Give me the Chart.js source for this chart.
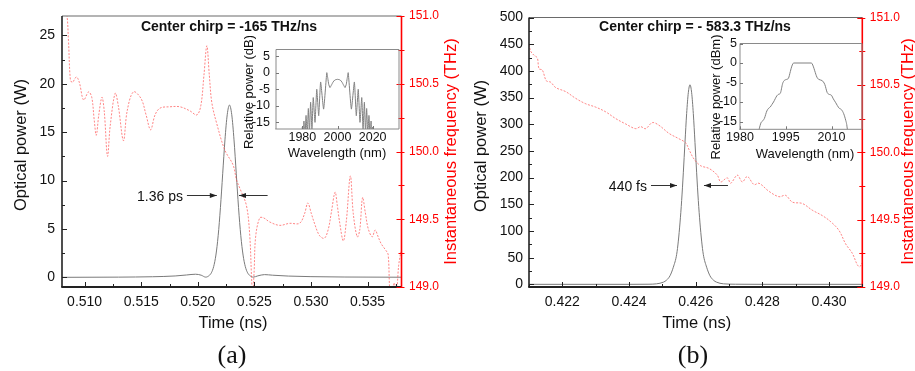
<!DOCTYPE html>
<html><head><meta charset="utf-8">
<script src="https://cdn.jsdelivr.net/npm/chart.js@4.4.1/dist/chart.umd.min.js"></script>
<style>
html,body{margin:0;padding:0;background:#fff;width:915px;height:371px;overflow:hidden;position:relative}
canvas{position:absolute;display:block}
</style></head><body>
<canvas id="ca" width="470" height="371" style="left:0px;top:0px"></canvas>
<canvas id="cb" width="460" height="371" style="left:455px;top:0px"></canvas>
<canvas id="ia" width="166" height="130" style="left:238px;top:36px"></canvas>
<canvas id="ib" width="162" height="132" style="left:703px;top:33px"></canvas>
<script>
// ---------- Panel (a) ----------
const A_TIME_TICKS = [0.510, 0.515, 0.520, 0.525, 0.530, 0.535];
const A_POWER_TICKS = [0, 5, 10, 15, 20, 25];
const A_FREQ_TICKS = [149.0, 149.5, 150.0, 150.5, 151.0];
const A_POWER_T = [0.508, 0.513, 0.516, 0.518, 0.519, 0.5198, 0.5203, 0.5207, 0.5210, 0.5212, 0.5214, 0.5216, 0.5218, 0.5220, 0.5222, 0.5224, 0.5226, 0.5228, 0.5230, 0.5232, 0.5234, 0.5236, 0.5238, 0.5240, 0.5242, 0.5244, 0.5246, 0.5249, 0.5253, 0.5259, 0.5266, 0.528, 0.530, 0.533, 0.538];
const A_POWER_W = [0, 0.02, 0.06, 0.14, 0.24, 0.32, 0.22, 0.02, 0.18, 0.47, 1.1, 2.3, 4.3, 7.2, 10.7, 14.2, 16.8, 17.8, 16.8, 14.2, 10.7, 7.2, 4.3, 2.3, 1.1, 0.47, 0.18, 0.02, 0.15, 0.28, 0.22, 0.13, 0.07, 0.03, 0.01];
const A_FREQ_T = [0.50804, 0.50839, 0.50857, 0.50874, 0.50892, 0.50927, 0.50953, 0.50991, 0.51035, 0.51063, 0.51085, 0.51103, 0.51125, 0.51153, 0.51173, 0.51202, 0.51226, 0.5127, 0.51297, 0.51343, 0.51376, 0.51431, 0.51499, 0.51543, 0.51583, 0.51622, 0.51666, 0.51754, 0.51842, 0.5193, 0.51992, 0.52027, 0.52054, 0.5208, 0.52102, 0.52124, 0.52166, 0.52239, 0.52312, 0.52342, 0.52371, 0.5243, 0.52459, 0.52476, 0.52485, 0.52498, 0.52511, 0.52547, 0.52582, 0.52635, 0.52723, 0.52811, 0.52899, 0.52943, 0.52972, 0.53004, 0.53031, 0.53075, 0.53119, 0.53154, 0.5318, 0.53213, 0.53233, 0.53251, 0.53286, 0.53313, 0.53348, 0.53374, 0.53409, 0.53431, 0.53456, 0.5348, 0.53506, 0.53541, 0.53567, 0.53594, 0.5362, 0.53662, 0.53682, 0.53695, 0.53708, 0.53735, 0.53755, 0.53775, 0.53794];
const A_FREQ_THZ = [151.08, 151.03, 150.82, 150.53, 150.51, 150.55, 150.51, 150.38, 150.44, 150.40, 150.23, 150.12, 150.27, 150.40, 150.30, 149.965, 150.19, 150.43, 150.34, 150.08, 150.30, 150.44, 150.39, 150.27, 150.16, 150.27, 150.32, 150.33, 150.33, 150.30, 150.27, 150.34, 150.56, 150.78, 150.56, 150.36, 150.21, 150.01, 149.90, 149.79, 149.73, 149.60, 149.38, 149.05, 148.94, 149.12, 149.37, 149.51, 149.51, 149.48, 149.455, 149.47, 149.47, 149.54, 149.62, 149.54, 149.47, 149.38, 149.36, 149.43, 149.55, 149.70, 149.60, 149.49, 149.34, 149.49, 149.82, 149.54, 149.37, 149.42, 149.66, 149.55, 149.43, 149.37, 149.42, 149.37, 149.32, 149.27, 149.24, 148.99, 148.90, 149.03, 148.96, 149.16, 149.26];

// ---------- Panel (b) ----------
const B_TIME_TICKS = [0.422, 0.424, 0.426, 0.428, 0.430];
const B_POWER_TICKS = [0, 50, 100, 150, 200, 250, 300, 350, 400, 450, 500];
const B_FREQ_TICKS = [149.0, 149.5, 150.0, 150.5, 151.0];
const B_POWER_T = [0.421, 0.4240, 0.4246, 0.42483, 0.42503, 0.42513, 0.42523, 0.42533, 0.42543, 0.42548, 0.42553, 0.42558, 0.42563, 0.42568, 0.42573, 0.42578, 0.42583, 0.42588, 0.42593, 0.42598, 0.42603, 0.42608, 0.42613, 0.42618, 0.42623, 0.42633, 0.42643, 0.42653, 0.42663, 0.42683, 0.4272, 0.4280, 0.431];
const B_POWER_W = [0, 0, 0.2, 1, 4, 8, 16, 32, 56, 81, 115, 157, 209, 266, 320, 359, 374, 359, 320, 266, 209, 157, 115, 81, 56, 32, 16, 8, 4, 1, 0.2, 0, 0];
const B_FREQ_T = [0.42100, 0.42105, 0.42115, 0.42125, 0.4213, 0.4214, 0.42152, 0.42165, 0.4218, 0.4221, 0.4224, 0.4227, 0.4230, 0.4233, 0.4236, 0.4239, 0.4242, 0.42435, 0.4245, 0.4247, 0.4249, 0.4252, 0.4255, 0.4257, 0.4258, 0.42595, 0.42615, 0.4264, 0.42665, 0.42675, 0.42695, 0.42705, 0.42725, 0.4274, 0.42755, 0.42775, 0.4279, 0.4282, 0.4285, 0.4287, 0.4289, 0.4292, 0.4295, 0.4298, 0.43005, 0.4303, 0.4305, 0.4307, 0.43085, 0.43092, 0.431];
const B_FREQ_THZ = [150.80, 150.75, 150.72, 150.70, 150.62, 150.61, 150.53, 150.52, 150.48, 150.45, 150.40, 150.36, 150.335, 150.30, 150.25, 150.21, 150.175, 150.19, 150.175, 150.22, 150.20, 150.14, 150.10, 150.07, 150.02, 149.95, 149.90, 149.88, 149.83, 149.78, 149.81, 149.77, 149.83, 149.78, 149.82, 149.76, 149.77, 149.71, 149.67, 149.68, 149.63, 149.62, 149.57, 149.53, 149.485, 149.42, 149.32, 149.25, 149.165, 149.15, 149.18];

// ---------- Insets ----------
const IA_WL_TICKS = [1980, 2000, 2020];
const IA_DB_TICKS = [-15, -10, -5, 0, 5];
const IA_WL = [1978.8, 1979.3, 1979.65, 1980.0, 1980.45, 1980.9, 1981.5, 1982.1, 1982.75, 1983.4, 1984.05, 1984.7, 1985.45, 1986.2, 1987.2, 1988.2, 1989.3, 1990.4, 1992.1, 1993.9, 1994.5, 1995.0, 1995.7, 1996.5, 1997.5, 1998.5, 2000, 2001.5, 2002.5, 2003.5, 2004.3, 2005.0, 2005.5, 2006.1, 2007.9, 2009.6, 2010.7, 2011.8, 2012.8, 2013.8, 2014.55, 2015.3, 2015.95, 2016.6, 2017.25, 2017.9, 2018.5, 2019.1, 2019.55, 2020.0, 2020.35, 2020.7, 2021.2];
const IA_DB = [-22, -17.8, -22, -16.4, -21, -14.6, -20, -12.9, -19, -10.8, -18, -8.9, -17, -7.5, -15, -5, -13, -2.8, -11, 0, -1.8, -3.5, -4.5, -3.8, -2.8, -2.2, -2, -2.2, -2.8, -3.8, -4.5, -3.5, -1.8, 0, -11, -2.8, -13, -5, -15, -7.5, -17, -8.9, -18, -10.8, -19, -12.9, -20, -14.6, -21, -16.4, -22, -17.8, -22];
const IB_WL_TICKS = [1980, 1995, 2010];
const IB_DB_TICKS = [-15, -10, -5, 0, 5];
const IB_WL = [1986.0, 1986.3, 1986.9, 1987.5, 1988.0, 1988.8, 1989.4, 1989.9, 1990.5, 1991.0, 1992.1, 1992.7, 1993.2, 1994.0, 1994.5, 1995.3, 1995.9, 1996.5, 1997.0, 1997.6, 2000, 2003.4, 2004.0, 2004.5, 2005.2, 2005.8, 2006.9, 2007.8, 2008.6, 2009.1, 2010.0, 2010.6, 2011.4, 2012.4, 2013.3, 2014.0, 2014.7, 2015.0, 2015.2, 2015.5];
const IB_DB = [-18, -16.9, -15.3, -14.8, -14.2, -12.3, -11.6, -11.3, -10.6, -10, -8.4, -8.0, -7.8, -5.2, -4.5, -4.2, -3.9, -2.2, -0.8, 0, 0, 0, -0.8, -2.0, -3.6, -4.2, -4.5, -5.5, -7.6, -8.0, -8.3, -9.2, -10.2, -11.5, -12.0, -13.0, -14.8, -15.8, -17, -18];

const SANS = "'Liberation Sans', Arial, Helvetica, sans-serif";
const RED = '#ff0000';
const pts = (xs, ys) => xs.map((x, i) => ({x: x, y: ys[i]}));

// plugin: frame lines, inward ticks, texts, arrows
const decor = {
  id: 'decor',
  afterDraw(chart, args, o) {
    const ctx = chart.ctx, ca = chart.chartArea;
    (o.frame || []).forEach(f => {
      ctx.save(); ctx.strokeStyle = f.color; ctx.lineWidth = f.width; ctx.beginPath();
      if (f.side === 'left') { ctx.moveTo(ca.left, ca.top); ctx.lineTo(ca.left, ca.bottom); }
      if (f.side === 'right') { ctx.moveTo(ca.right, ca.top); ctx.lineTo(ca.right, ca.bottom); }
      if (f.side === 'top') { ctx.moveTo(ca.left, ca.top); ctx.lineTo(ca.right, ca.top); }
      if (f.side === 'bottom') { ctx.moveTo(ca.left - 0.75, ca.bottom); ctx.lineTo(ca.right, ca.bottom); }
      ctx.stroke(); ctx.restore();
    });
    (o.ticks || []).forEach(it => {
      const s = chart.scales[it.id];
      const vals = s.ticks.map(t => t.value);
      ctx.save(); ctx.strokeStyle = it.color; ctx.lineWidth = it.width || 1;
      const draw = (v, len) => {
        if (v < s.min - 1e-9 || v > s.max + 1e-9) return;
        const p = Math.round(s.getPixelForValue(v)) + 0.5;
        ctx.beginPath();
        if (s.isHorizontal()) {
          const y = ca.bottom; ctx.moveTo(p, y); ctx.lineTo(p, y - len);
        } else if (it.side === 'right') {
          ctx.moveTo(ca.right + (it.out || 0), p); ctx.lineTo(ca.right - len, p);
        } else {
          ctx.moveTo(ca.left, p); ctx.lineTo(ca.left + len, p);
        }
        ctx.stroke();
      };
      vals.forEach(v => draw(v, it.len));
      if (it.minorLen && vals.length > 1) {
        const step = vals[1] - vals[0];
        for (let v = vals[0] - step / 2; v <= s.max; v += step) draw(v, it.minorLen);
      }
      ctx.restore();
    });
    (o.texts || []).forEach(t => {
      ctx.save();
      ctx.font = t.font; ctx.fillStyle = t.color || '#111';
      ctx.textAlign = t.align || 'center'; ctx.textBaseline = 'middle';
      let x = t.x, y = t.y;
      if (t.dx !== undefined) { x = chart.scales.x.getPixelForValue(t.dx); y = chart.scales.y.getPixelForValue(t.dy); }
      ctx.translate(x, y); if (t.rot) ctx.rotate(t.rot * Math.PI / 180);
      ctx.fillText(t.text, 0, 0);
      ctx.restore();
    });
    (o.arrows || []).forEach(a => {
      const x1 = chart.scales.x.getPixelForValue(a.from), x2 = chart.scales.x.getPixelForValue(a.to);
      const y = Math.round(chart.scales.y.getPixelForValue(a.at)) + 0.5;
      ctx.save(); ctx.strokeStyle = '#333'; ctx.fillStyle = '#222'; ctx.lineWidth = 1;
      ctx.beginPath(); ctx.moveTo(x1, y); ctx.lineTo(x2, y); ctx.stroke();
      const d = Math.sign(x2 - x1);
      ctx.beginPath(); ctx.moveTo(x2, y); ctx.lineTo(x2 - d * 7, y - 2.5); ctx.lineTo(x2 - d * 7, y + 2.5); ctx.closePath(); ctx.fill();
      ctx.restore();
    });
  }
};

function fixedTicks(arr) { return s => { s.ticks = arr.map(v => ({value: v})); }; }

function mainChart(id, c) {
  return new Chart(document.getElementById(id), {
    type: 'line',
    data: { datasets: [
      { data: pts(c.freqT, c.freqV), yAxisID: 'y2', borderColor: 'rgba(255,80,80,0.7)', borderWidth: 1, borderDash: [2, 1.5], pointRadius: 0, tension: 0.35, fill: false },
      { data: pts(c.powT, c.powV), yAxisID: 'y', borderColor: '#7a7a7a', borderWidth: 1, pointRadius: 0, cubicInterpolationMode: 'monotone', fill: false }
    ]},
    options: {
      responsive: false, animation: false, devicePixelRatio: 1,
      layout: { padding: { top: c.top, left: 0, right: 0, bottom: 0 } },
      plugins: { legend: { display: false }, tooltip: { enabled: false }, title: { display: false },
        decor: c.decor },
      scales: {
        x: { type: 'linear', min: c.xmin, max: c.xmax, afterBuildTicks: fixedTicks(c.xTicks),
             afterFit: s => { s.height = c.xh; },
             grid: { display: false, drawTicks: false }, border: { display: false },
             ticks: { autoSkip: false, maxRotation: 0, padding: 6.5, color: '#111', font: { family: SANS, size: 14 }, callback: v => v.toFixed(3) } },
        y: { type: 'linear', position: 'left', min: c.ymin, max: c.ymax, afterBuildTicks: fixedTicks(c.yTicks),
             afterFit: s => { s.width = c.yw; },
             grid: { display: false, drawTicks: false }, border: { display: false },
             ticks: { autoSkip: false, padding: c.ypad, color: '#111', font: { family: SANS, size: 14 }, callback: v => String(v) } },
        y2: { type: 'linear', position: 'right', min: 149, max: 151, afterBuildTicks: fixedTicks(c.fTicks),
             afterFit: s => { s.width = c.y2w; },
             grid: { display: false, drawTicks: false }, border: { display: false },
             ticks: { autoSkip: false, padding: 7.5, color: RED, font: { family: SANS, size: 12 }, callback: v => v.toFixed(1) } }
      }
    },
    plugins: [decor]
  });
}

const frameMain = [
  { side: 'top', color: '#6a6a6a', width: 1.2 },
  { side: 'left', color: '#222', width: 1.6 },
  { side: 'bottom', color: '#222', width: 1.8 },
  { side: 'right', color: RED, width: 1.6 }
];
const tickMain = [
  { id: 'x', len: 5, minorLen: 3, color: '#222' },
  { id: 'y', len: 5, minorLen: 3, color: '#222' },
  { id: 'y2', side: 'right', len: 5, minorLen: 3, out: 3, color: RED }
];
const AX = "16.5px " + SANS;

mainChart('ca', {
  powT: A_POWER_T, powV: A_POWER_W, freqT: A_FREQ_T, freqV: A_FREQ_THZ,
  xmin: 0.508, xmax: 0.538, ymin: -1, ymax: 27, xTicks: A_TIME_TICKS, yTicks: A_POWER_TICKS, fTicks: A_FREQ_TICKS,
  top: 16, xh: 84, yw: 62, y2w: 68.5, ypad: 7,
  decor: {
    frame: frameMain, ticks: tickMain,
    texts: [
      { text: 'Optical power (W)', x: 21, y: 145, rot: -90, font: AX },
      { text: 'Instantaneous frequency (THz)', x: 451, y: 151.5, rot: -90, font: AX, color: RED },
      { text: 'Time (ns)', x: 233, y: 323, font: AX },
      { text: '(a)', x: 232, y: 356, font: "26px 'Liberation Serif', 'Times New Roman', serif" },
      { text: 'Center chirp = -165 THz/ns', x: 229, y: 27.5, font: "bold 14px " + SANS },
      { text: '1.36 ps', dx: 0.51869, dy: 8.3, align: 'right', font: "14px " + SANS }
    ],
    arrows: [ { from: 0.51904, to: 0.52168, at: 8.5 }, { from: 0.52617, to: 0.52364, at: 8.5 } ]
  }
});

mainChart('cb', {
  powT: B_POWER_T, powV: B_POWER_W, freqT: B_FREQ_T, freqV: B_FREQ_THZ,
  xmin: 0.421, xmax: 0.431, ymin: -5, ymax: 500, xTicks: B_TIME_TICKS, yTicks: B_POWER_TICKS, fTicks: B_FREQ_TICKS,
  top: 17.5, xh: 84, yw: 74, y2w: 52.7, ypad: 6,
  decor: {
    frame: frameMain, ticks: tickMain,
    texts: [
      { text: 'Optical power (W)', x: 26, y: 146, rot: -90, font: AX },
      { text: 'Instantaneous frequency (THz)', x: 453, y: 151.5, rot: -90, font: AX, color: RED },
      { text: 'Time (ns)', x: 241.7, y: 323.3, font: AX },
      { text: '(b)', x: 238, y: 356, font: "26px 'Liberation Serif', 'Times New Roman', serif" },
      { text: 'Center chirp = - 583.3 THz/ns', x: 240, y: 27.5, font: "bold 14px " + SANS },
      { text: '440 fs', dx: 0.42454, dy: 183, align: 'right', font: "14px " + SANS }
    ],
    arrows: [ { from: 0.42466, to: 0.42544, at: 186 }, { from: 0.42697, to: 0.42625, at: 186 } ]
  }
});

function insetChart(id, c) {
  return new Chart(document.getElementById(id), {
    type: 'line',
    data: { datasets: [
      { data: pts(c.wl, c.db), borderColor: '#808080', borderWidth: 1, pointRadius: 0, tension: c.tension, cubicInterpolationMode: c.mono ? 'monotone' : 'default', fill: false }
    ]},
    options: {
      responsive: false, animation: false, devicePixelRatio: 1,
      layout: { padding: { top: c.top, left: 0, right: c.right, bottom: 0 } },
      plugins: { legend: { display: false }, tooltip: { enabled: false },
        decor: {
          frame: [ { side: 'top', color: '#8a8a8a', width: 1 }, { side: 'bottom', color: '#8a8a8a', width: 1 },
                   { side: 'left', color: '#8a8a8a', width: 1 }, { side: 'right', color: '#8a8a8a', width: 1 } ],
          ticks: [ { id: 'x', len: 3, color: '#777' }, { id: 'y', len: 3, color: '#777' } ],
          texts: c.texts
        } },
      scales: {
        x: { type: 'linear', min: c.xmin, max: c.xmax, afterBuildTicks: fixedTicks(c.xTicks),
             afterFit: s => { s.height = c.xh; },
             grid: { display: false, drawTicks: false }, border: { display: false },
             ticks: { autoSkip: false, maxRotation: 0, padding: c.xpad, color: '#111', font: { family: SANS, size: 12.5 }, callback: v => String(v) } },
        y: { type: 'linear', min: c.ymin, max: c.ymax, afterBuildTicks: fixedTicks(c.yTicks),
             afterFit: s => { s.width = c.yw; },
             grid: { display: false, drawTicks: false }, border: { display: false },
             ticks: { autoSkip: false, padding: c.ypad, color: '#111', font: { family: SANS, size: 12.5 }, callback: v => String(v) } }
      }
    },
    plugins: [decor]
  });
}

insetChart('ia', {
  wl: IA_WL, db: IA_DB, xmin: 1965, xmax: 2035, ymin: -17, ymax: 7, xTicks: IA_WL_TICKS, yTicks: IA_DB_TICKS,
  tension: 0.15, mono: false, top: 7, right: 5, xh: 37, yw: 38, xpad: 1.5, ypad: 6,
  texts: [
    { text: 'Relative power (dB)', x: 11, y: 56, rot: -90, font: "13px " + SANS },
    { text: 'Wavelength (nm)', x: 99, y: 117.5, font: "13px " + SANS }
  ]
});

insetChart('ib', {
  wl: IB_WL, db: IB_DB, xmin: 1980, xmax: 2020, ymin: -17, ymax: 5, xTicks: IB_WL_TICKS, yTicks: IB_DB_TICKS,
  tension: 0, mono: true, top: 8, right: 3, xh: 35.7, yw: 37, xpad: 0.5, ypad: 3,
  texts: [
    { text: 'Relative power (dBm)', x: 13.7, y: 64, rot: -90, font: "13px " + SANS },
    { text: 'Wavelength (nm)', x: 102, y: 121, font: "13px " + SANS }
  ]
});
</script>
</body></html>
